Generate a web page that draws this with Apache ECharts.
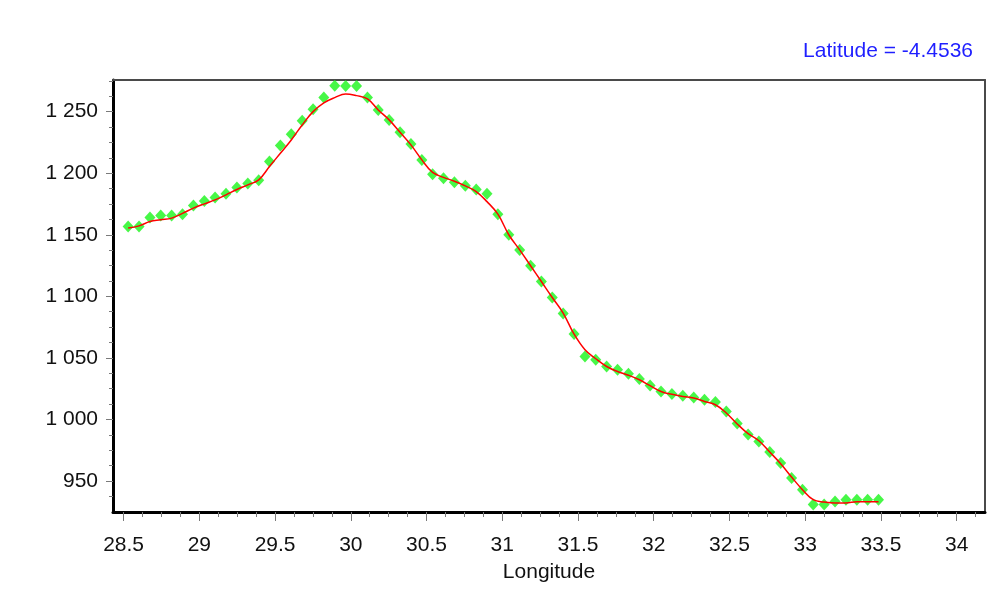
<!DOCTYPE html>
<html>
<head>
<meta charset="utf-8">
<title>Profile along longitude</title>
<script src="https://cdn.jsdelivr.net/npm/echarts@6/dist/echarts.min.js"></script>
<style>
  html, body { margin: 0; padding: 0; background: #ffffff; }
  #chart { width: 1000px; height: 601px; }
</style>
</head>
<body>
<div id="chart"></div>
<script>
// Sample longitudes along the profile
const longitudes = [
  28.530, 28.602, 28.674, 28.745, 28.817, 28.889, 28.961, 29.033, 29.104, 29.176,
  29.248, 29.320, 29.392, 29.463, 29.535, 29.607, 29.679, 29.751, 29.822, 29.894,
  29.966, 30.038, 30.110, 30.181, 30.253, 30.325, 30.397, 30.469, 30.540, 30.612,
  30.684, 30.756, 30.828, 30.899, 30.971, 31.043, 31.115, 31.187, 31.258, 31.330,
  31.402, 31.474, 31.546, 31.617, 31.689, 31.761, 31.833, 31.905, 31.976, 32.048,
  32.120, 32.192, 32.264, 32.335, 32.407, 32.479, 32.551, 32.623, 32.694, 32.766,
  32.838, 32.910, 32.982, 33.053, 33.125, 33.197, 33.269, 33.341, 33.412, 33.484
];

// Observed values (green markers)
const observed = [
  1156.7, 1156.7, 1164.0, 1165.6, 1165.6, 1166.7, 1173.7, 1177.5, 1180.2, 1183.4,
  1188.3, 1191.6, 1194.3, 1209.4, 1222.4, 1231.7, 1242.5, 1252.0, 1261.4, 1271.1,
  1270.9, 1270.9, 1261.4, 1251.4, 1243.3, 1233.3, 1223.8, 1210.8, 1199.2, 1195.9,
  1192.7, 1189.9, 1186.7, 1183.4, 1166.7, 1150.0, 1137.7, 1124.8, 1112.0, 1099.1,
  1086.0, 1069.3, 1051.1, 1048.5, 1043.0, 1040.3, 1037.1, 1032.8, 1027.6, 1022.7,
  1020.6, 1019.2, 1017.9, 1016.0, 1014.1, 1006.5, 996.7, 987.8, 982.1, 973.5,
  964.6, 952.4, 942.9, 930.8, 930.8, 933.4, 934.8, 934.8, 934.8, 934.8
];

// Fitted curve values (red line)
const fitted = [
  1155.4, 1157.2, 1160.7, 1162.1, 1163.5, 1167.4, 1171.6, 1175.1, 1178.3, 1182.4,
  1186.8, 1190.5, 1194.6, 1205.4, 1216.2, 1227.0, 1239.2, 1250.0, 1257.1, 1261.4,
  1264.4, 1263.0, 1260.3, 1251.4, 1243.3, 1233.3, 1223.0, 1210.8, 1200.6, 1196.6,
  1193.5, 1189.7, 1185.1, 1176.9, 1166.7, 1150.0, 1137.7, 1124.8, 1112.0, 1099.0,
  1086.4, 1069.3, 1056.6, 1049.3, 1043.0, 1038.9, 1035.9, 1032.2, 1027.4, 1022.7,
  1020.4, 1018.7, 1017.4, 1014.6, 1011.9, 1005.2, 996.3, 988.4, 982.7, 973.5,
  964.0, 953.2, 942.9, 934.8, 932.9, 932.1, 932.1, 933.2, 933.2, 933.2
];

// Axis tick positions
const xMajorTicks = [28.5, 29, 29.5, 30, 30.5, 31, 31.5, 32, 32.5, 33, 33.5, 34];
const xMinorTicks = [
  28.625, 28.75, 28.875, 29.125, 29.25, 29.375, 29.625, 29.75, 29.875,
  30.125, 30.25, 30.375, 30.625, 30.75, 30.875, 31.125, 31.25, 31.375,
  31.625, 31.75, 31.875, 32.125, 32.25, 32.375, 32.625, 32.75, 32.875,
  33.125, 33.25, 33.375, 33.625, 33.75, 33.875, 34.125
];
const yMajorTicks = [950, 1000, 1050, 1100, 1150, 1200, 1250];
const yMinorTicks = [
  937.5, 962.5, 975, 987.5, 1012.5, 1025, 1037.5, 1062.5, 1075, 1087.5,
  1112.5, 1125, 1137.5, 1162.5, 1175, 1187.5, 1212.5, 1225, 1237.5, 1262.5, 1275
];

const titleText = 'Latitude = -4.4536';
const xName = 'Longitude';

const X_MIN = 28.43, X_MAX = 34.187;
const Y_MIN = 924.8, Y_MAX = 1275.7;

const FONT = '"Liberation Sans", Arial, sans-serif';
const FONT_SIZE = 21;

// Thousands separated by a space: 1250 -> "1 250"
function spaced(v) {
  const s = String(v);
  return s.length > 3 ? s.slice(0, -3) + ' ' + s.slice(-3) : s;
}

const chart = echarts.init(document.getElementById('chart'), null, { renderer: 'canvas' });

const hidden = { show: false };
const tickColor = '#7a7a7a';

chart.setOption({
  animation: false,
  backgroundColor: '#ffffff',
  title: {
    text: titleText,
    right: 27,
    top: 41,
    padding: 0,
    textStyle: { color: '#1f1fff', fontSize: FONT_SIZE, fontWeight: 'normal', fontFamily: FONT }
  },
  grid: { left: 113, right: 15, top: 80, bottom: 89, containLabel: false },
  xAxis: [
    {
      type: 'value', position: 'bottom', min: X_MIN, max: X_MAX,
      name: xName, nameLocation: 'middle', nameGap: 50,
      nameTextStyle: { color: '#111', fontSize: FONT_SIZE, fontFamily: FONT },
      axisLine: { show: true, lineStyle: { color: '#000', width: 3 } },
      axisTick: { show: true, customValues: xMajorTicks, length: 9, lineStyle: { color: tickColor, width: 1 } },
      axisLabel: { show: true, customValues: xMajorTicks, margin: 23, color: '#111', fontSize: FONT_SIZE, fontFamily: FONT },
      splitLine: hidden
    },
    {
      type: 'value', position: 'bottom', min: X_MIN, max: X_MAX,
      axisLine: hidden,
      axisTick: { show: true, customValues: xMinorTicks, length: 5, lineStyle: { color: tickColor, width: 1 } },
      axisLabel: hidden, splitLine: hidden
    },
    {
      type: 'value', position: 'top', min: X_MIN, max: X_MAX,
      axisLine: { show: true, lineStyle: { color: '#4a4a4a', width: 2 } },
      axisTick: hidden, axisLabel: hidden, splitLine: hidden
    }
  ],
  yAxis: [
    {
      type: 'value', position: 'left', min: Y_MIN, max: Y_MAX,
      axisLine: { show: true, lineStyle: { color: '#000', width: 3 } },
      axisTick: { show: true, customValues: yMajorTicks, length: 7, lineStyle: { color: tickColor, width: 1 } },
      axisLabel: { show: true, customValues: yMajorTicks, margin: 15, color: '#111', fontSize: FONT_SIZE, fontFamily: FONT, formatter: spaced },
      splitLine: hidden
    },
    {
      type: 'value', position: 'left', min: Y_MIN, max: Y_MAX,
      axisLine: hidden,
      axisTick: { show: true, customValues: yMinorTicks, length: 4, lineStyle: { color: tickColor, width: 1 } },
      axisLabel: hidden, splitLine: hidden
    },
    {
      type: 'value', position: 'right', min: Y_MIN, max: Y_MAX,
      axisLine: { show: true, lineStyle: { color: '#4a4a4a', width: 2 } },
      axisTick: hidden, axisLabel: hidden, splitLine: hidden
    }
  ],
  series: [
    {
      name: 'Observed', type: 'scatter', xAxisIndex: 0, yAxisIndex: 0,
      symbol: 'diamond', symbolSize: [11, 12],
      itemStyle: { color: '#19f519' },
      data: longitudes.map((x, i) => [x, observed[i]]),
      z: 2
    },
    {
      name: 'Fitted', type: 'line', xAxisIndex: 0, yAxisIndex: 0,
      smooth: 0.4, showSymbol: false, symbol: 'none',
      lineStyle: { color: '#ff0000', width: 1.5 },
      data: longitudes.map((x, i) => [x, fitted[i]]),
      z: 3
    }
  ]
});
</script>
</body>
</html>
